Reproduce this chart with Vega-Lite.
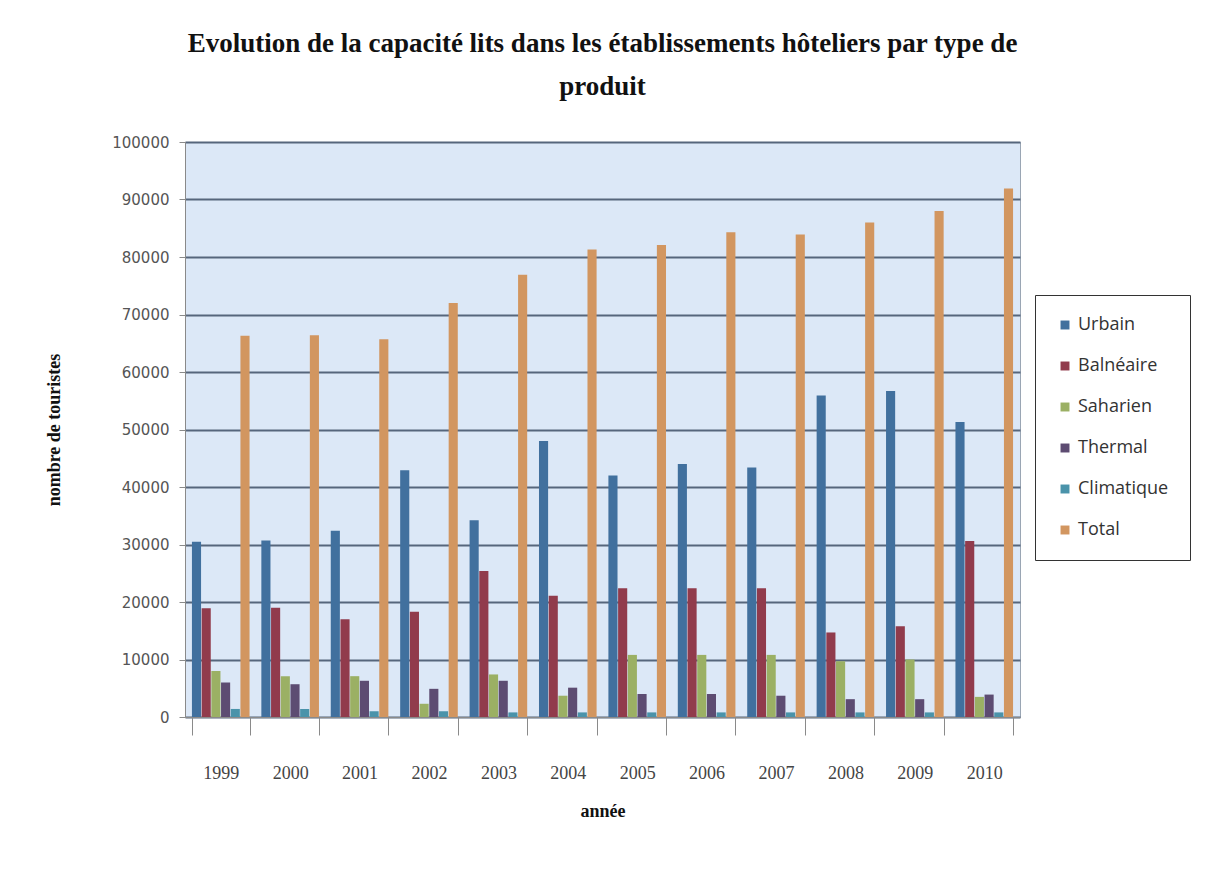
{
  "$schema": "https://vega.github.io/schema/vega-lite/v6.json",
  "width": 835,
  "height": 575,
  "padding": {"left": 45, "top": 30, "right": 5, "bottom": 5},
  "background": "white",
  "title": {
    "text": ["Evolution de la capacité lits dans les établissements hôteliers par type de", "produit"],
    "font": "Liberation Serif",
    "fontSize": 27,
    "fontWeight": "bold",
    "lineHeight": 43,
    "anchor": "middle",
    "offset": 34,
    "color": "#111111"
  },
  "data": {
    "values": [
      {"year": "1999", "type": "Urbain", "value": 30500},
      {"year": "1999", "type": "Balnéaire", "value": 18900},
      {"year": "1999", "type": "Saharien", "value": 8000},
      {"year": "1999", "type": "Thermal", "value": 6000},
      {"year": "1999", "type": "Climatique", "value": 1400},
      {"year": "1999", "type": "Total", "value": 66300},
      {"year": "2000", "type": "Urbain", "value": 30700},
      {"year": "2000", "type": "Balnéaire", "value": 19000},
      {"year": "2000", "type": "Saharien", "value": 7100},
      {"year": "2000", "type": "Thermal", "value": 5700},
      {"year": "2000", "type": "Climatique", "value": 1400},
      {"year": "2000", "type": "Total", "value": 66400},
      {"year": "2001", "type": "Urbain", "value": 32400},
      {"year": "2001", "type": "Balnéaire", "value": 17000},
      {"year": "2001", "type": "Saharien", "value": 7100},
      {"year": "2001", "type": "Thermal", "value": 6300},
      {"year": "2001", "type": "Climatique", "value": 1000},
      {"year": "2001", "type": "Total", "value": 65700},
      {"year": "2002", "type": "Urbain", "value": 42900},
      {"year": "2002", "type": "Balnéaire", "value": 18300},
      {"year": "2002", "type": "Saharien", "value": 2300},
      {"year": "2002", "type": "Thermal", "value": 4900},
      {"year": "2002", "type": "Climatique", "value": 1000},
      {"year": "2002", "type": "Total", "value": 72000},
      {"year": "2003", "type": "Urbain", "value": 34200},
      {"year": "2003", "type": "Balnéaire", "value": 25400},
      {"year": "2003", "type": "Saharien", "value": 7400},
      {"year": "2003", "type": "Thermal", "value": 6300},
      {"year": "2003", "type": "Climatique", "value": 800},
      {"year": "2003", "type": "Total", "value": 76900},
      {"year": "2004", "type": "Urbain", "value": 48000},
      {"year": "2004", "type": "Balnéaire", "value": 21100},
      {"year": "2004", "type": "Saharien", "value": 3700},
      {"year": "2004", "type": "Thermal", "value": 5100},
      {"year": "2004", "type": "Climatique", "value": 800},
      {"year": "2004", "type": "Total", "value": 81300},
      {"year": "2005", "type": "Urbain", "value": 42000},
      {"year": "2005", "type": "Balnéaire", "value": 22400},
      {"year": "2005", "type": "Saharien", "value": 10800},
      {"year": "2005", "type": "Thermal", "value": 4000},
      {"year": "2005", "type": "Climatique", "value": 800},
      {"year": "2005", "type": "Total", "value": 82100},
      {"year": "2006", "type": "Urbain", "value": 44000},
      {"year": "2006", "type": "Balnéaire", "value": 22400},
      {"year": "2006", "type": "Saharien", "value": 10800},
      {"year": "2006", "type": "Thermal", "value": 4000},
      {"year": "2006", "type": "Climatique", "value": 800},
      {"year": "2006", "type": "Total", "value": 84300},
      {"year": "2007", "type": "Urbain", "value": 43400},
      {"year": "2007", "type": "Balnéaire", "value": 22400},
      {"year": "2007", "type": "Saharien", "value": 10800},
      {"year": "2007", "type": "Thermal", "value": 3700},
      {"year": "2007", "type": "Climatique", "value": 800},
      {"year": "2007", "type": "Total", "value": 83900},
      {"year": "2008", "type": "Urbain", "value": 55900},
      {"year": "2008", "type": "Balnéaire", "value": 14700},
      {"year": "2008", "type": "Saharien", "value": 9700},
      {"year": "2008", "type": "Thermal", "value": 3100},
      {"year": "2008", "type": "Climatique", "value": 800},
      {"year": "2008", "type": "Total", "value": 86000},
      {"year": "2009", "type": "Urbain", "value": 56700},
      {"year": "2009", "type": "Balnéaire", "value": 15800},
      {"year": "2009", "type": "Saharien", "value": 10000},
      {"year": "2009", "type": "Thermal", "value": 3100},
      {"year": "2009", "type": "Climatique", "value": 800},
      {"year": "2009", "type": "Total", "value": 88000},
      {"year": "2010", "type": "Urbain", "value": 51300},
      {"year": "2010", "type": "Balnéaire", "value": 30600},
      {"year": "2010", "type": "Saharien", "value": 3500},
      {"year": "2010", "type": "Thermal", "value": 3900},
      {"year": "2010", "type": "Climatique", "value": 800},
      {"year": "2010", "type": "Total", "value": 91900}
    ]
  },
  "mark": {"type": "bar"},
  "encoding": {
    "x": {
      "field": "year",
      "type": "nominal",
      "title": "année",
      "scale": {"paddingInner": 0.17, "paddingOuter": 0.1},
      "axis": {
        "labelAngle": 0,
        "tickBand": "extent",
        "tickSize": 18,
        "tickColor": "#8a8a8a",
        "domainColor": "#8a8a8a",
        "labelPadding": 29,
        "labelFont": "Liberation Serif",
        "labelFontSize": 18,
        "labelColor": "#444444",
        "titleFont": "Liberation Serif",
        "titleFontSize": 18,
        "titleFontWeight": "bold",
        "titleColor": "#111111",
        "titlePadding": 20
      }
    },
    "xOffset": {
      "field": "type",
      "sort": ["Urbain", "Balnéaire", "Saharien", "Thermal", "Climatique", "Total"],
      "scale": {"paddingInner": 0.06}
    },
    "y": {
      "field": "value",
      "type": "quantitative",
      "title": "nombre de touristes",
      "scale": {"domain": [0, 100000], "nice": false},
      "axis": {
        "values": [0, 10000, 20000, 30000, 40000, 50000, 60000, 70000, 80000, 90000, 100000],
        "format": "d",
        "gridColor": "#56667c",
        "gridWidth": 2,
        "tickSize": 6,
        "tickColor": "#8a8a8a",
        "domainColor": "#8a8a8a",
        "labelPadding": 10,
        "labelFont": "DejaVu Sans",
        "labelFontSize": 15,
        "labelColor": "#555555",
        "titleFont": "Liberation Serif",
        "titleFontSize": 18,
        "titleFontWeight": "bold",
        "titleColor": "#111111",
        "titlePadding": 48
      }
    },
    "color": {
      "field": "type",
      "type": "nominal",
      "sort": ["Urbain", "Balnéaire", "Saharien", "Thermal", "Climatique", "Total"],
      "scale": {
        "domain": ["Urbain", "Balnéaire", "Saharien", "Thermal", "Climatique", "Total"],
        "range": ["#41709e", "#913b4c", "#9bb064", "#5d4c72", "#4a93aa", "#d29660"]
      },
      "legend": {
        "title": null,
        "orient": "none",
        "legendX": 850,
        "legendY": 153,
        "strokeColor": "#333333",
        "fillColor": "#ffffff",
        "padding": 21,
        "rowPadding": 23,
        "symbolType": "square",
        "symbolSize": 80,
        "symbolStrokeWidth": 0,
        "labelFont": "Open Sans",
        "labelFontSize": 18,
        "labelColor": "#333333"
      }
    }
  },
  "config": {
    "view": {"fill": "#dce8f7", "stroke": "#9aa6b4"}
  }
}
